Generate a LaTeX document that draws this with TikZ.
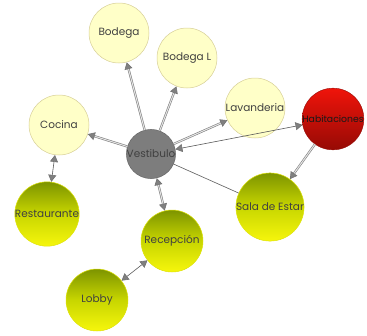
\documentclass[tikz,border=0pt]{standalone}
\usepackage{fontspec}
\setmainfont{Poppins}
\usetikzlibrary{arrows.meta}
\definecolor{paleyel}{RGB}{255,255,200}
\definecolor{paleedge}{RGB}{214,206,150}
\definecolor{olivetop}{RGB}{125,148,0}
\definecolor{olivemid}{RGB}{200,214,0}
\definecolor{yelbot}{RGB}{246,246,12}
\definecolor{redtop}{RGB}{240,20,10}
\definecolor{redbot}{RGB}{150,10,5}
\definecolor{hubgray}{RGB}{125,125,125}
\begin{document}
\begin{tikzpicture}[x=1pt, y=-1pt,
  room/.style={circle, inner sep=0pt, font=\fontsize{10.5}{11}\selectfont, text=black!75},
  paleroom/.style={room, minimum size=60pt, fill=paleyel, draw=paleedge, line width=0.5pt},
  greenroom/.style={room, minimum size=62pt, top color=olivetop, bottom color=yelbot, middle color=olivemid, draw=yelbot!80!olivetop, line width=0.5pt},
  redroom/.style={room, minimum size=52pt, top color=redtop, bottom color=redbot, draw=redbot, text=black!90, font=\fontsize{9.3}{10}\selectfont},
  hub/.style={room, minimum size=42pt, fill=hubgray, draw=black!60, line width=0.5pt},
  tip/.tip={Triangle[length=7pt, width=8pt, fill=gray, color=black!55]},
  wide/.style={draw=gray, double=white!80!gray, double distance=1pt, line width=0.6pt},
  slim/.style={draw=black!65, line width=0.6pt}]
  \useasboundingbox (0,0) rectangle (367,335);
  % salas
  \node[paleroom] (bod) at (119,33) {Bodega};
  \node[paleroom] (bodl) at (187,58) {Bodega L};
  \node[paleroom] (lav) at (255,108) {Lavanderia};
  \node[paleroom] (coc) at (59,125) {Cocina};
  \node[redroom] (hab) at (333,119) {Habitaciones};
  \node[hub] (ves) at (151,154) {Vestibulo};
  \node[greenroom] (res) at (47,214) {Restaurante};
  \node[greenroom] (sal) at (270,207) {Sala de Estar};
  \node[greenroom] (rec) at (172,241) {Recepción};
  \node[greenroom] (lob) at (97,300) {Lobby};
  % conexiones
  \draw[wide, -tip] (ves) -- (bod);
  \draw[wide, -tip] (ves) -- (bodl);
  \draw[wide, -tip] (ves) -- (lav);
  \draw[wide, -tip] (ves) -- (coc);
  \draw[wide, -tip] (hab) -- (sal);
  \draw[wide, tip-tip] (ves) -- (rec);
  \draw[slim, tip-tip] (ves) -- (hab);
  \draw[slim] (ves) -- (sal);
  \draw[slim, tip-tip] (coc) -- (res);
  \draw[slim, tip-tip] (rec) -- (lob);
\end{tikzpicture}
\end{document}
